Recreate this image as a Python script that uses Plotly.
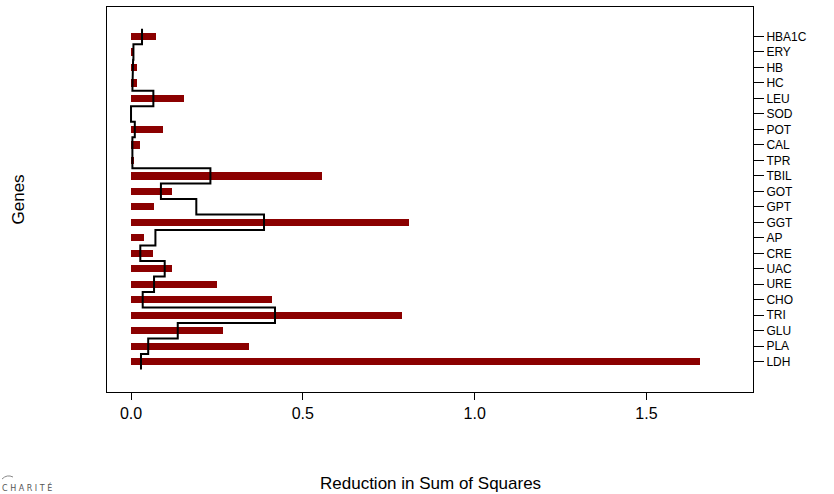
import plotly.graph_objects as go

genes = ["LDH", "PLA", "GLU", "TRI", "CHO", "URE", "UAC", "CRE", "AP", "GGT", "GPT",
         "GOT", "TBIL", "TPR", "CAL", "POT", "SOD", "LEU", "HC", "HB", "ERY", "HBA1C"]
bar_values = [1.656, 0.342, 0.267, 0.788, 0.411, 0.249, 0.119, 0.063, 0.039, 0.808, 0.066,
              0.118, 0.557, 0.008, 0.025, 0.092, 0.001, 0.153, 0.016, 0.017, 0.008, 0.074]
step_values = [0.029, 0.050, 0.136, 0.419, 0.034, 0.067, 0.098, 0.027, 0.071, 0.387, 0.190,
               0.087, 0.231, 0.004, 0.004, 0.011, 0.000, 0.065, 0.004, 0.006, 0.007, 0.032]
x_ticks = [0.0, 0.5, 1.0, 1.5]
x_tick_labels = ["0.0", "0.5", "1.0", "1.5"]

positions = list(range(1, len(genes) + 1))

# step outline: each gene spans half a slot above and below its position
step_x, step_y = [], []
for p, v in zip(positions, step_values):
    step_x += [v, v]
    step_y += [p - 0.5, p + 0.5]

FONT = "Liberation Sans, Arial, Helvetica, sans-serif"

fig = go.Figure()
fig.add_trace(go.Bar(
    x=bar_values, y=positions, orientation="h", width=0.47,
    marker=dict(color="#8B0000", line=dict(width=0)),
    showlegend=False, hoverinfo="skip",
))
fig.add_trace(go.Scatter(
    x=step_x, y=step_y, mode="lines",
    line=dict(color="black", width=2),
    showlegend=False, hoverinfo="skip",
))

fig.update_layout(
    width=834, height=494,
    margin=dict(l=107, r=81, t=7, b=102, autoexpand=False),
    paper_bgcolor="white", plot_bgcolor="white",
    font=dict(family=FONT, size=13, color="black"),
    bargap=0,
    xaxis=dict(
        range=[-0.0699, 1.810], tickvals=x_ticks, ticktext=x_tick_labels,
        ticks="outside", ticklen=7, tickwidth=1, tickcolor="black",
        showline=True, linecolor="black", linewidth=1, mirror=True,
        showgrid=False, zeroline=False, automargin=False,
        tickfont=dict(family=FONT, size=16),
    ),
    yaxis=dict(
        range=[-0.957, 23.905], tickvals=positions, ticktext=genes,
        side="right", ticks="outside", ticklen=10, tickwidth=1, tickcolor="black",
        showline=True, linecolor="black", linewidth=1, mirror=True,
        showgrid=False, zeroline=False, automargin=False,
        tickfont=dict(family=FONT, size=12),
    ),
    annotations=[
        dict(text="Reduction in Sum of Squares", xref="paper", yref="paper",
             x=0.5, y=0, yshift=-91, showarrow=False, xanchor="center", yanchor="middle",
             font=dict(family=FONT, size=17)),
        dict(text="Genes", xref="paper", yref="paper",
             x=0, y=0.5, xshift=-89, showarrow=False, textangle=-90,
             xanchor="center", yanchor="middle", font=dict(family=FONT, size=17)),
        dict(text="C H A R I T É", xref="paper", yref="paper",
             x=0, y=0, xshift=-107, yshift=-95, showarrow=False,
             xanchor="left", yanchor="middle",
             font=dict(family="DejaVu Sans, sans-serif", size=8, color="#555555")),
    ],
    shapes=[
        dict(type="path", xref="paper", yref="paper",
             xsizemode="pixel", ysizemode="pixel", xanchor=0, yanchor=0,
             path="M -105,-87 Q -100,-82 -94,-85",
             line=dict(color="#888888", width=1)),
    ],
)

fig.write_html("out.html", config={"displayModeBar": False},
               post_script="document.body.style.margin='0';")
